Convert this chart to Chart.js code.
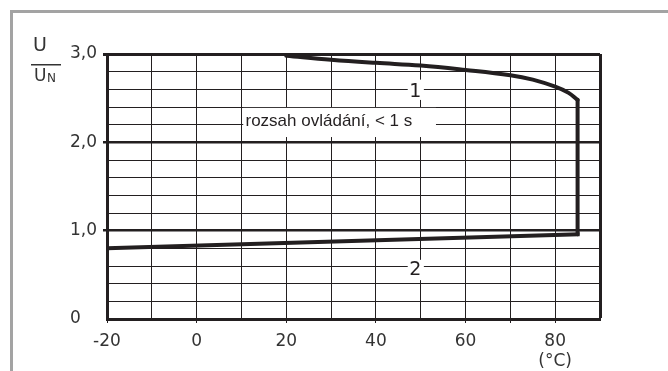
<!DOCTYPE html>
<html>
<head>
<meta charset="utf-8">
<script src="https://cdn.jsdelivr.net/npm/chart.js@4/dist/chart.umd.min.js"></script>
<style>
  html, body { margin: 0; padding: 0; background: #fff; }
  #wrap { width: 668px; height: 371px; position: relative; }
</style>
</head>
<body>
<div id="wrap"><canvas id="chart" width="668" height="371"></canvas></div>
<script>
// curve 1: upper limit (temperature in °C, U/UN), curved part then the vertical drop at 85 °C
const temp1 = [20, 30, 40, 50, 60, 70, 75, 80, 83, 85];
const ratio1 = [2.98, 2.935, 2.9, 2.87, 2.82, 2.76, 2.71, 2.63, 2.56, 2.48];
const tempDrop = [85, 85];
const ratioDrop = [2.48, 0.96];
// curve 2: lower limit
const temp2 = [-20, 85];
const ratio2 = [0.8, 0.96];

const xLabels = { "-20": "-20", "0": "0", "20": "20", "40": "40", "60": "60", "80": ["80", "(°C)"] };
const yLabels = { "0": "0   ", "1": "1,0", "2": "2,0", "3": "3,0" };

// text notes in the plot, with their white boxes (data units)
const noteText = ["1", "2", "rozsah ovládání, < 1 s"];
const noteX = [48.8, 48.8, 10.9];
const noteY = [2.57, 0.555, 2.24];
const noteBox = [[47.1, 50.7, 2.71, 2.48], [47.1, 50.7, 0.67, 0.44], [10.4, 53.4, 2.39, 2.06]];

const ink = "#231f20";
const isInt = (v) => Math.abs(v - Math.round(v)) < 1e-6;
const pts = (xs, ys) => xs.map((x, i) => ({ x, y: ys[i] }));

const notes = {
  id: "notes",
  beforeDatasetsDraw(chart) {
    const { ctx, scales: { x, y } } = chart;
    ctx.save();
    noteBox.forEach((b) => {
      const l = x.getPixelForValue(b[0]), r = x.getPixelForValue(b[1]);
      const t = y.getPixelForValue(b[2]), btm = y.getPixelForValue(b[3]);
      ctx.fillStyle = "#fff";
      ctx.fillRect(l, t, r - l, btm - t);
    });
    ctx.fillStyle = ink;
    ctx.textBaseline = "middle";
    noteText.forEach((s, i) => {
      const long = s.length > 2;
      ctx.font = long ? "17px 'Liberation Sans'" : "19px 'DejaVu Sans'";
      ctx.textAlign = long ? "left" : "center";
      ctx.fillText(s, x.getPixelForValue(noteX[i]), y.getPixelForValue(noteY[i]));
    });
    ctx.restore();
  },
  beforeDraw(chart) {
    const ctx = chart.ctx;
    ctx.save();
    ctx.fillStyle = "#fff";
    ctx.fillRect(0, 0, chart.width, chart.height);
    // gray frame
    ctx.strokeStyle = "#a3a3a3";
    ctx.lineWidth = 3;
    ctx.beginPath();
    ctx.moveTo(11.5, chart.height);
    ctx.lineTo(11.5, 11.5);
    ctx.lineTo(chart.width, 11.5);
    ctx.stroke();
    // axis title U / UN
    ctx.fillStyle = "#333";
    ctx.textBaseline = "alphabetic";
    ctx.textAlign = "left";
    ctx.font = "19px 'DejaVu Sans'";
    ctx.fillText("U", 33, 51);
    ctx.font = "17px 'DejaVu Sans'";
    ctx.fillText("U", 34, 81);
    ctx.font = "12px 'DejaVu Sans'";
    ctx.fillText("N", 47, 82);
    ctx.fillRect(31, 64, 30, 1.5);
    ctx.restore();
  },
};

const lineStyle = { showLine: true, borderColor: ink, borderWidth: 4, pointRadius: 0, borderCapStyle: "round" };

new Chart(document.getElementById("chart"), {
  type: "scatter",
  data: {
    datasets: [
      { ...lineStyle, data: pts(temp1, ratio1), tension: 0.4 },
      { ...lineStyle, data: pts(tempDrop, ratioDrop), tension: 0 },
      { ...lineStyle, data: pts(temp2, ratio2), tension: 0, borderCapStyle: "square" },
    ],
  },
  options: {
    responsive: false,
    animation: false,
    layout: { padding: { top: 54, right: 68, left: 0, bottom: 0 } },
    plugins: { legend: { display: false }, tooltip: { enabled: false } },
    scales: {
      x: {
        type: "linear",
        min: -20,
        max: 90,
        afterFit: (s) => { s.height = 52; },
        ticks: {
          stepSize: 10,
          autoSkip: false,
          maxRotation: 0,
          padding: 8,
          color: "#333",
          font: { family: "DejaVu Sans", size: 17, lineHeight: 1.2 },
          callback: (v) => xLabels[String(Math.round(v))] || "",
        },
        grid: {
          color: ink,
          lineWidth: (c) => (c.tick && c.tick.value === 90 ? 3 : 1),
          tickLength: 4,
          tickColor: (c) => (c.tick && [-10, 10, 30, 50, 90].includes(c.tick.value) ? "rgba(0,0,0,0)" : ink),
        },
        border: { display: true, color: ink, width: 3 },
      },
      y: {
        type: "linear",
        min: 0,
        max: 3,
        afterFit: (s) => { s.width = 107; },
        ticks: {
          stepSize: 0.2,
          autoSkip: false,
          padding: 6,
          color: "#333",
          font: { family: "DejaVu Sans", size: 17 },
          callback: (v) => (isInt(v) ? yLabels[String(Math.round(v))] : ""),
        },
        grid: {
          color: ink,
          lineWidth: (c) => {
            const v = c.tick ? c.tick.value : 0.5;
            if (Math.abs(v - 3) < 1e-6) return 3;
            return isInt(v) ? 2.5 : 1;
          },
          tickLength: 4,
          tickColor: (c) => (c.tick && isInt(c.tick.value) && c.tick.value > 0.5 ? ink : "rgba(0,0,0,0)"),
        },
        border: { display: true, color: ink, width: 3 },
      },
    },
  },
  plugins: [notes],
});
</script>
</body>
</html>
